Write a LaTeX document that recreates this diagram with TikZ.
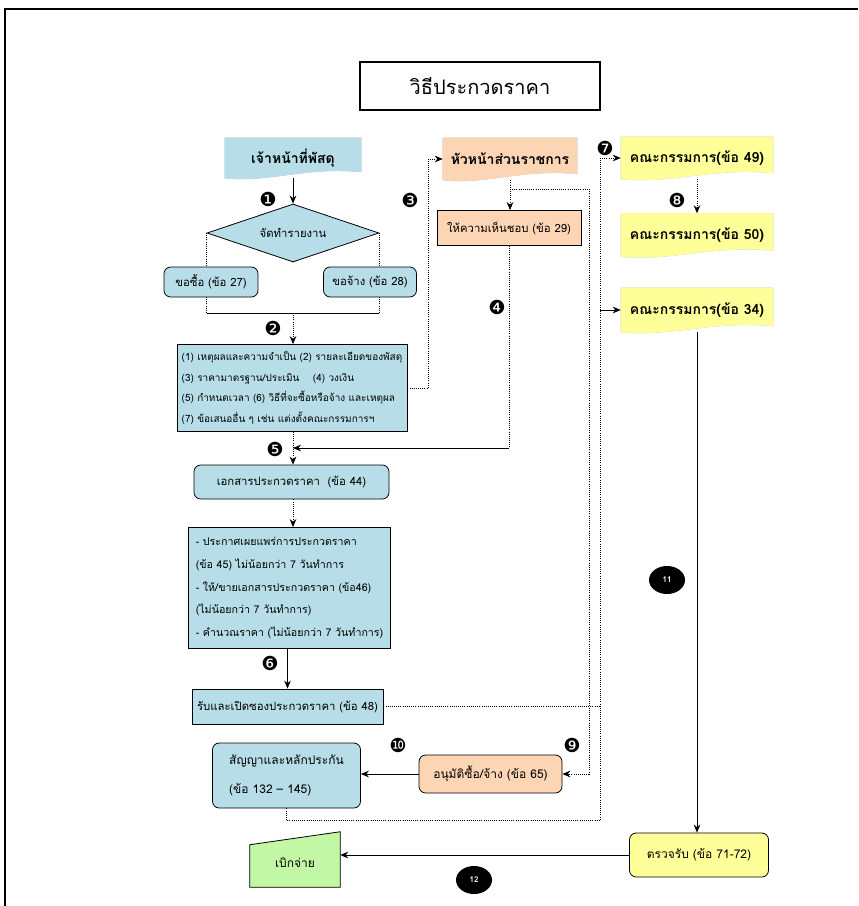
\documentclass[tikz,border=0pt]{standalone}
\usepackage{fontspec}
\setmainfont[Script=Thai]{Loma}
\newfontfamily\dingfont{DejaVu Sans}
\usetikzlibrary{arrows.meta,calc,shapes.geometric}
\pgfdeclarelayer{background}
\pgfsetlayers{background,main}

\definecolor{boxblue}{HTML}{B7DEE8}
\definecolor{boxorange}{HTML}{FCD5B4}
\definecolor{boxyellow}{HTML}{FFFF99}
\definecolor{boxgreen}{HTML}{C2F7A6}
\definecolor{docshade}{HTML}{A9B7CB}

\newcommand\pxu{0.75pt}
% wavy-bottomed document shape with a drop shadow, drawn behind node #1
\newcommand\docshape[2]{%
  \begin{pgfonlayer}{background}
    \foreach \sh/\col in {{(4,4)}/docshade,{(0,0)}/#2}{%
      \fill[\col,shift=\sh] (#1.north west) -- (#1.north east)
        -- ($(#1.south east)+(0,-6)$)
        .. controls ($(#1.south)+(15,-12)$) and ($(#1.south)+(-25,5)$) .. (#1.south west) -- cycle;
    }
  \end{pgfonlayer}}

\tikzset{
  flowbox/.style={draw=black, line width=0.6pt, inner sep=2pt,
    font=\fontsize{8.5}{11}\selectfont},
  bluebox/.style={flowbox, fill=boxblue},
  orangebox/.style={flowbox, fill=boxorange},
  roundbox/.style={rounded corners=5pt},
  docnode/.style={inner sep=0pt, font=\bfseries\fontsize{10.5}{13}\selectfont},
  dotline/.style={densely dotted, line width=0.6pt},
  solidline/.style={line width=0.7pt},
  arrowed/.style={-{Stealth[length=6pt,width=5pt]}},
  numlabel/.style={font=\dingfont\fontsize{14.5}{14.5}\selectfont, inner sep=0pt},
  numoval/.style={ellipse, fill=black, text=white, inner sep=0pt,
    minimum width=36*\pxu, minimum height=28*\pxu,
    font=\bfseries\fontsize{6}{6}\selectfont},
}

\begin{document}
\begin{tikzpicture}[x=0.75pt,y=-0.75pt]
\useasboundingbox (0,0) rectangle (858,906);

% page frame
\draw[line width=1.2pt] (5,906) -- (5,9) -- (858,9);

% title
\node[draw=black, line width=0.8pt, minimum width=240*\pxu, minimum height=48*\pxu,
  font=\fontsize{15}{18}\selectfont] (title) at (480,86) {วิธีประกวดราคา};

% left column
\node[docnode, minimum width=136*\pxu, minimum height=40*\pxu] (staff) at (293,158) {เจ้าหน้าที่พัสดุ};
\docshape{staff}{boxblue}

\node[diamond, shape aspect=3, draw=black, line width=0.6pt, fill=boxblue, inner sep=0pt,
  minimum width=172*\pxu, minimum height=58*\pxu,
  font=\fontsize{8.5}{11}\selectfont] (dia) at (293,233) {จัดทำรายงาน};

\coordinate (y313) at (0,313);
\coordinate (y448) at (0,448);
\coordinate (join) at (293,313);
\draw[dotline] (dia.west) -- (dia.west |- y313);
\draw[dotline] (dia.east) -- (dia.east |- y313);
\draw[solidline] (dia.west |- y313) -- (dia.east |- y313);

\node[bluebox, roundbox, minimum width=94*\pxu, minimum height=30*\pxu] (buy27) at (211,282) {ขอซื้อ (ข้อ 27)};
\node[bluebox, roundbox, minimum width=93*\pxu, minimum height=30*\pxu] (hire28) at (370,282) {ขอจ้าง (ข้อ 28)};

\node[bluebox, align=left, minimum width=230*\pxu, minimum height=87*\pxu, inner sep=3pt,
  font=\fontsize{7.5}{15.5}\selectfont] (reasons) at (292,388)
  {(1) เหตุผลและความจำเป็น (2) รายละเอียดของพัสดุ\\
   (3) ราคามาตรฐาน/ประเมิน \ \ \ (4) วงเงิน\\
   (5) กำหนดเวลา (6) วิธีที่จะซื้อหรือจ้าง และเหตุผล\\
   (7) ข้อเสนออื่น ๆ เช่น แต่งตั้งคณะกรรมการฯ};

\node[bluebox, roundbox, minimum width=195*\pxu, minimum height=34*\pxu] (docs44) at (291.5,482) {เอกสารประกวดราคา \ (ข้อ 44)};

\node[bluebox, align=left, minimum width=202*\pxu, minimum height=121*\pxu, inner sep=3pt,
  font=\fontsize{8}{17}\selectfont] (announce) at (289.5,588)
  {- ประกาศเผยแพร่การประกวดราคา\\
   (ข้อ 45) ไม่น้อยกว่า 7 วันทำการ\\
   - ให้/ขายเอกสารประกวดราคา (ข้อ46)\\
   (ไม่น้อยกว่า 7 วันทำการ)\\
   - คำนวณราคา (ไม่น้อยกว่า 7 วันทำการ)};

\node[bluebox, minimum width=191*\pxu, minimum height=35*\pxu] (open48) at (287.5,706.5) {รับและเปิดซองประกวดราคา (ข้อ 48)};

\node[bluebox, roundbox, align=left, minimum width=148*\pxu, minimum height=65*\pxu,
  font=\fontsize{9}{22}\selectfont] (contract) at (286.5,775.5)
  {สัญญาและหลักประกัน\\(ข้อ 132 – 145)};

\node[orangebox, roundbox, minimum width=143*\pxu, minimum height=38*\pxu,
  font=\fontsize{9}{11}\selectfont] (approve65) at (490.5,774) {อนุมัติซื้อ/จ้าง (ข้อ 65)};

% middle column
\node[docnode, minimum width=134*\pxu, minimum height=42*\pxu] (head) at (510,159) {หัวหน้าส่วนราชการ};
\docshape{head}{boxorange}
\node[orangebox, minimum width=144*\pxu, minimum height=35*\pxu] (approve29) at (509,228) {ให้ความเห็นชอบ (ข้อ 29)};

% right column
\node[docnode, minimum width=152*\pxu, minimum height=42*\pxu] (c49) at (697,158) {คณะกรรมการ(ข้อ 49)};
\docshape{c49}{boxyellow}
\node[docnode, minimum width=152*\pxu, minimum height=43*\pxu] (c50) at (697,235) {คณะกรรมการ(ข้อ 50)};
\docshape{c50}{boxyellow}
\node[docnode, minimum width=152*\pxu, minimum height=44*\pxu] (c34) at (697,310) {คณะกรรมการ(ข้อ 34)};
\docshape{c34}{boxyellow}

\node[flowbox, roundbox, fill=boxyellow, minimum width=139*\pxu, minimum height=44*\pxu,
  font=\fontsize{9}{11}\selectfont] (check) at (699,855) {ตรวจรับ (ข้อ 71-72)};

\node[inner sep=0pt, minimum width=90*\pxu, minimum height=48*\pxu,
  font=\fontsize{9}{11}\selectfont] (pay) at (295,863) {เบิกจ่าย};
\begin{pgfonlayer}{background}
  \filldraw[fill=boxgreen, draw=black, line width=0.6pt]
    (pay.south west) -- (pay.south east) -- ($(pay.north east)+(0,-7)$)
    -- ($(pay.north west)+(0,6)$) -- cycle;
\end{pgfonlayer}

% connectors
\coordinate (railA) at (589,0);
\coordinate (railB) at (600,0);

\draw[solidline, arrowed] (staff.south) -- (staff.south |- dia.north);
\draw[dotline, arrowed] (join) -- (join |- reasons.north);
\draw[dotline, arrowed] (reasons.east) -- ++(21,0) |- (head.west);
\draw[dotline, arrowed] (head.south) -- (head.south |- approve29.north);
\draw[dotline, arrowed] ($(head.south)+(0,9)$) -| (railA |- approve65.east) -- (approve65.east);
\draw[dotline] (approve29.south) -- (approve29.south |- y448);
\draw[solidline, arrowed] (approve29.south |- y448) -- (join |- y448);
\draw[dotline, arrowed] (join |- reasons.south) -- (join |- docs44.north);
\draw[dotline, arrowed] (join |- docs44.south) -- (join |- announce.north);
\draw[solidline, arrowed] (open48.north |- announce.south) -- (open48.north);
\draw[dotline] (open48.east) -- (railB |- open48.east);
\draw[dotline] (contract.south) -- ++(0,12) -| (railB |- c49.west);
\draw[dotline, arrowed] (railB |- c49.west) -- (c49.west);
\draw[solidline, arrowed] (railB |- c34.west) -- (c34.west);
\draw[dotline, arrowed] (c49.south) -- (c50.north);
\draw[solidline, arrowed] (c34.south) -- (c34.south |- check.north);
\draw[solidline, arrowed] (approve65.west) -- (approve65.west -| contract.east);
\draw[solidline, arrowed] (check.west) -- (check.west -| pay.east);

% step numbers
\node[numlabel] (n1) at (268,199) {❶};
\node[numlabel] (n2) at (273,328) {❷};
\node[numlabel] (n3) at (410,200) {❸};
\node[numlabel] (n4) at (497,307) {❹};
\node[numlabel] (n5) at (275,449) {❺};
\node[numlabel] (n6) at (270,663) {❻};
\node[numlabel] (n7) at (605,148) {❼};
\node[numlabel] (n8) at (677,200) {❽};
\node[numlabel] (n9) at (572,745) {❾};
\node[numlabel] (n10) at (398,745) {❿};
\node[numoval] (n11) at (667,580) {11};
\node[numoval] (n12) at (474,880) {12};
\end{tikzpicture}
\end{document}
